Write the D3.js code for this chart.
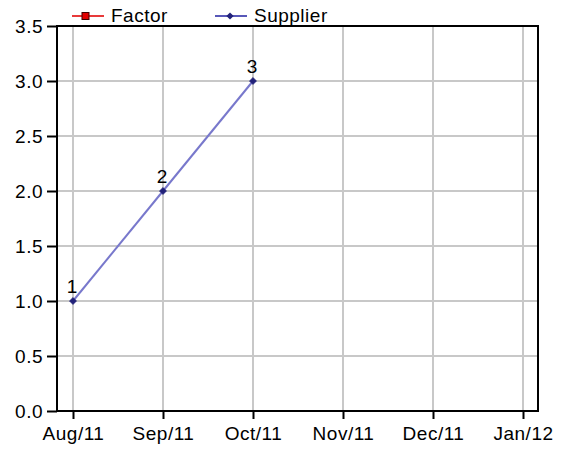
<!DOCTYPE html>
<html><head><meta charset="utf-8">
<script src="https://cdn.jsdelivr.net/npm/d3@7"></script>
<style>
html,body{margin:0;padding:0;background:#fff;}
text{font-family:"Liberation Sans",Arial,sans-serif;}
</style></head>
<body>
<svg id="chart" width="563" height="449"></svg>
<script>
const months = ["Aug/11","Sep/11","Oct/11","Nov/11","Dec/11","Jan/12"];
const yTicks = [0,0.5,1,1.5,2,2.5,3,3.5];
const supplierMonths = ["Aug/11","Sep/11","Oct/11"];
const supplierValues = [1,2,3];
const supplierLabels = ["1","2","3"];
const factorMonths = [];
const factorValues = [];
const seriesNames = ["Factor","Supplier"];

(function(){
const svg = d3.select("#chart");
const pL=57, pR=538, pT=26, pB=411;
const x = d3.scalePoint().domain(months).range([73,523]);
const y = d3.scaleLinear().domain([0,3.5]).range([pB,pT]);
const fs = "19px", ls = "0.5px";

// grid
svg.append("g").selectAll("line").data(yTicks).join("line")
  .attr("x1",pL).attr("x2",pR).attr("y1",d=>y(d)).attr("y2",d=>y(d))
  .attr("stroke","#c8c8c8").attr("stroke-width",2);
svg.append("g").selectAll("line").data(months).join("line")
  .attr("x1",d=>x(d)).attr("x2",d=>x(d)).attr("y1",pT).attr("y2",pB)
  .attr("stroke","#c8c8c8").attr("stroke-width",2);

// border
svg.append("rect").attr("x",pL).attr("y",pT).attr("width",pR-pL).attr("height",pB-pT)
  .attr("fill","none").attr("stroke","#000").attr("stroke-width",2);

// axes
const yAxis = d3.axisLeft(y).tickValues(yTicks).tickFormat(d3.format(".1f")).tickSize(10).tickPadding(4);
const gy = svg.append("g").attr("transform",`translate(${pL},0)`).call(yAxis);
const xAxis = d3.axisBottom(x).tickSize(8).tickPadding(7);
const gx = svg.append("g").attr("transform",`translate(0,${pB})`).call(xAxis);
[gy,gx].forEach(g=>{
  g.select(".domain").remove();
  g.selectAll(".tick line").attr("stroke","#000").attr("stroke-width",2);
  g.selectAll(".tick text").attr("fill","#000").style("font-size",fs).style("letter-spacing",ls)
   .style("font-family","'Liberation Sans',Arial,sans-serif");
});
gx.selectAll(".tick text").attr("dy","0.72em");

// supplier line
const sData = supplierMonths.map((m,i)=>({m,v:supplierValues[i],l:supplierLabels[i]}));
svg.append("path").datum(sData)
  .attr("d",d3.line().x(d=>x(d.m)).y(d=>y(d.v)))
  .attr("fill","none").attr("stroke","#7878cc").attr("stroke-width",2);
const diamond = d3.symbol().type(d3.symbolSquare).size(26);
svg.append("g").selectAll("path").data(sData).join("path")
  .attr("d",diamond).attr("transform",d=>`translate(${x(d.m)},${y(d.v)}) rotate(45)`)
  .attr("fill","#22227a").attr("stroke","#22227a").attr("stroke-width",0.5);
svg.append("g").selectAll("text").data(sData).join("text")
  .attr("x",d=>x(d.m)-1).attr("y",d=>y(d.v)-8).attr("text-anchor","middle")
  .style("font-size",fs).text(d=>d.l);

// factor series (no data)
const fData = factorMonths.map((m,i)=>({m,v:factorValues[i]}));
if(fData.length){
  svg.append("path").datum(fData).attr("d",d3.line().x(d=>x(d.m)).y(d=>y(d.v)))
    .attr("fill","none").attr("stroke","#e03030").attr("stroke-width",2);
}

// legend
const lg = svg.append("g");
const items = [
  {name:seriesNames[0], x0:72, color:"#e83a3a", mark:"square"},
  {name:seriesNames[1], x0:215, color:"#5858b8", mark:"diamond"}
];
items.forEach(it=>{
  lg.append("line").attr("x1",it.x0).attr("x2",it.x0+32).attr("y1",16).attr("y2",16)
    .attr("stroke",it.color).attr("stroke-width",2);
  if(it.mark==="square"){
    lg.append("rect").attr("x",it.x0+10).attr("y",12.5).attr("width",7).attr("height",7)
      .attr("fill","#e00000").attr("stroke","#400000").attr("stroke-width",1);
  } else {
    lg.append("path").attr("d",diamond).attr("transform",`translate(${it.x0+15},16) rotate(45)`)
      .attr("fill","#22227a");
  }
  lg.append("text").attr("x",it.x0+39).attr("y",22).style("font-size",fs).style("letter-spacing",ls)
    .text(it.name);
});
})();
</script>
</body></html>
